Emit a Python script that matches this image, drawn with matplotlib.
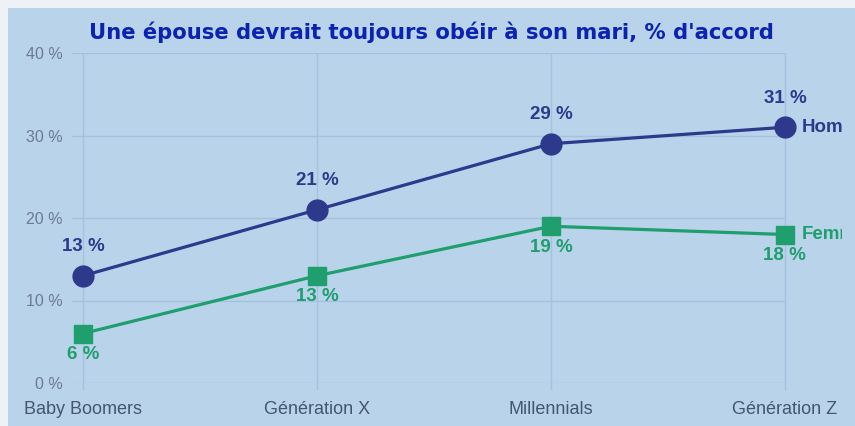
import matplotlib
matplotlib.use("Agg")
import matplotlib.pyplot as plt
from matplotlib.patches import Rectangle

categories = ["Baby Boomers", "Génération X", "Millennials", "Génération Z"]
homme = [13, 21, 29, 31]
femme = [6, 13, 19, 18]
y_ticks = [0, 10, 20, 30, 40]
title = "Une épouse devrait toujours obéir à son mari, % d'accord"

BG = "#b9d3eb"
NAVY = "#2d3a8c"
GREEN = "#1f9e6e"
GRID = "#a7c0dd"

plt.rcParams["font.family"] = ["Liberation Sans", "DejaVu Sans"]

W, H = 855, 426
fig = plt.figure(figsize=(W / 100, H / 100), dpi=100)
fig.patch.set_facecolor("#eef2f7")
panel = Rectangle((8 / W, 0), 1, 1 - 8 / H, transform=fig.transFigure,
                  facecolor=BG, edgecolor="none", zorder=-5)
fig.add_artist(panel)

ax = fig.add_axes([72 / W, 43 / H, 770 / W, 330 / H])
ax.set_facecolor("none")
ax.set_zorder(2)
x = list(range(len(categories)))
ax.set_xlim(-0.047, 3.244)
ax.set_ylim(0, 40)

# grid lines only up to the last category
ax.hlines(y_ticks, -0.047, 3, color=GRID, lw=1, zorder=1)
ax.vlines(x, -0.9, 40, color=GRID, lw=1, zorder=1, clip_on=False)

ax.plot(x, homme, color=NAVY, lw=2.3, marker="o", ms=15, zorder=3, clip_on=False)
ax.plot(x, femme, color=GREEN, lw=2.3, marker="s", ms=13.5, zorder=3, clip_on=False)

for xi, v in zip(x, homme):
    ax.annotate(f"{v} %", (xi, v), xytext=(0, 21), textcoords="offset points",
                ha="center", va="center", fontsize=13.5, fontweight="bold", color=NAVY)
for xi, v in zip(x, femme):
    ax.annotate(f"{v} %", (xi, v), xytext=(0, -15), textcoords="offset points",
                ha="center", va="center", fontsize=13.5, fontweight="bold", color=GREEN)

# series names, cut by the axes edge as in the source
ax.annotate("Homme", (x[-1], homme[-1]), xytext=(12, 0), textcoords="offset points",
            ha="left", va="center", fontsize=13.5, fontweight="bold", color=NAVY,
            annotation_clip=False, clip_on=True)
ax.annotate("Femme", (x[-1], femme[-1]), xytext=(12, 0), textcoords="offset points",
            ha="left", va="center", fontsize=13.5, fontweight="bold", color=GREEN,
            annotation_clip=False, clip_on=True)

ax.set_yticks(y_ticks)
ax.set_yticklabels([f"{t} %" for t in y_ticks], fontsize=11.5, color="#6c7b90")
ax.set_xticks(x)
ax.set_xticklabels(categories, fontsize=13, color="#45566f")
ax.tick_params(axis="y", length=0, pad=7)
ax.tick_params(axis="x", length=0, pad=13)
for s in ax.spines.values():
    s.set_visible(False)

fig.text(431 / W, 1 - 32 / H, title, ha="center", va="center", fontsize=15.2,
         fontweight="bold", color="#0b22b2", family="DejaVu Sans")

fig.savefig("out.png", dpi=100, facecolor=fig.get_facecolor())
